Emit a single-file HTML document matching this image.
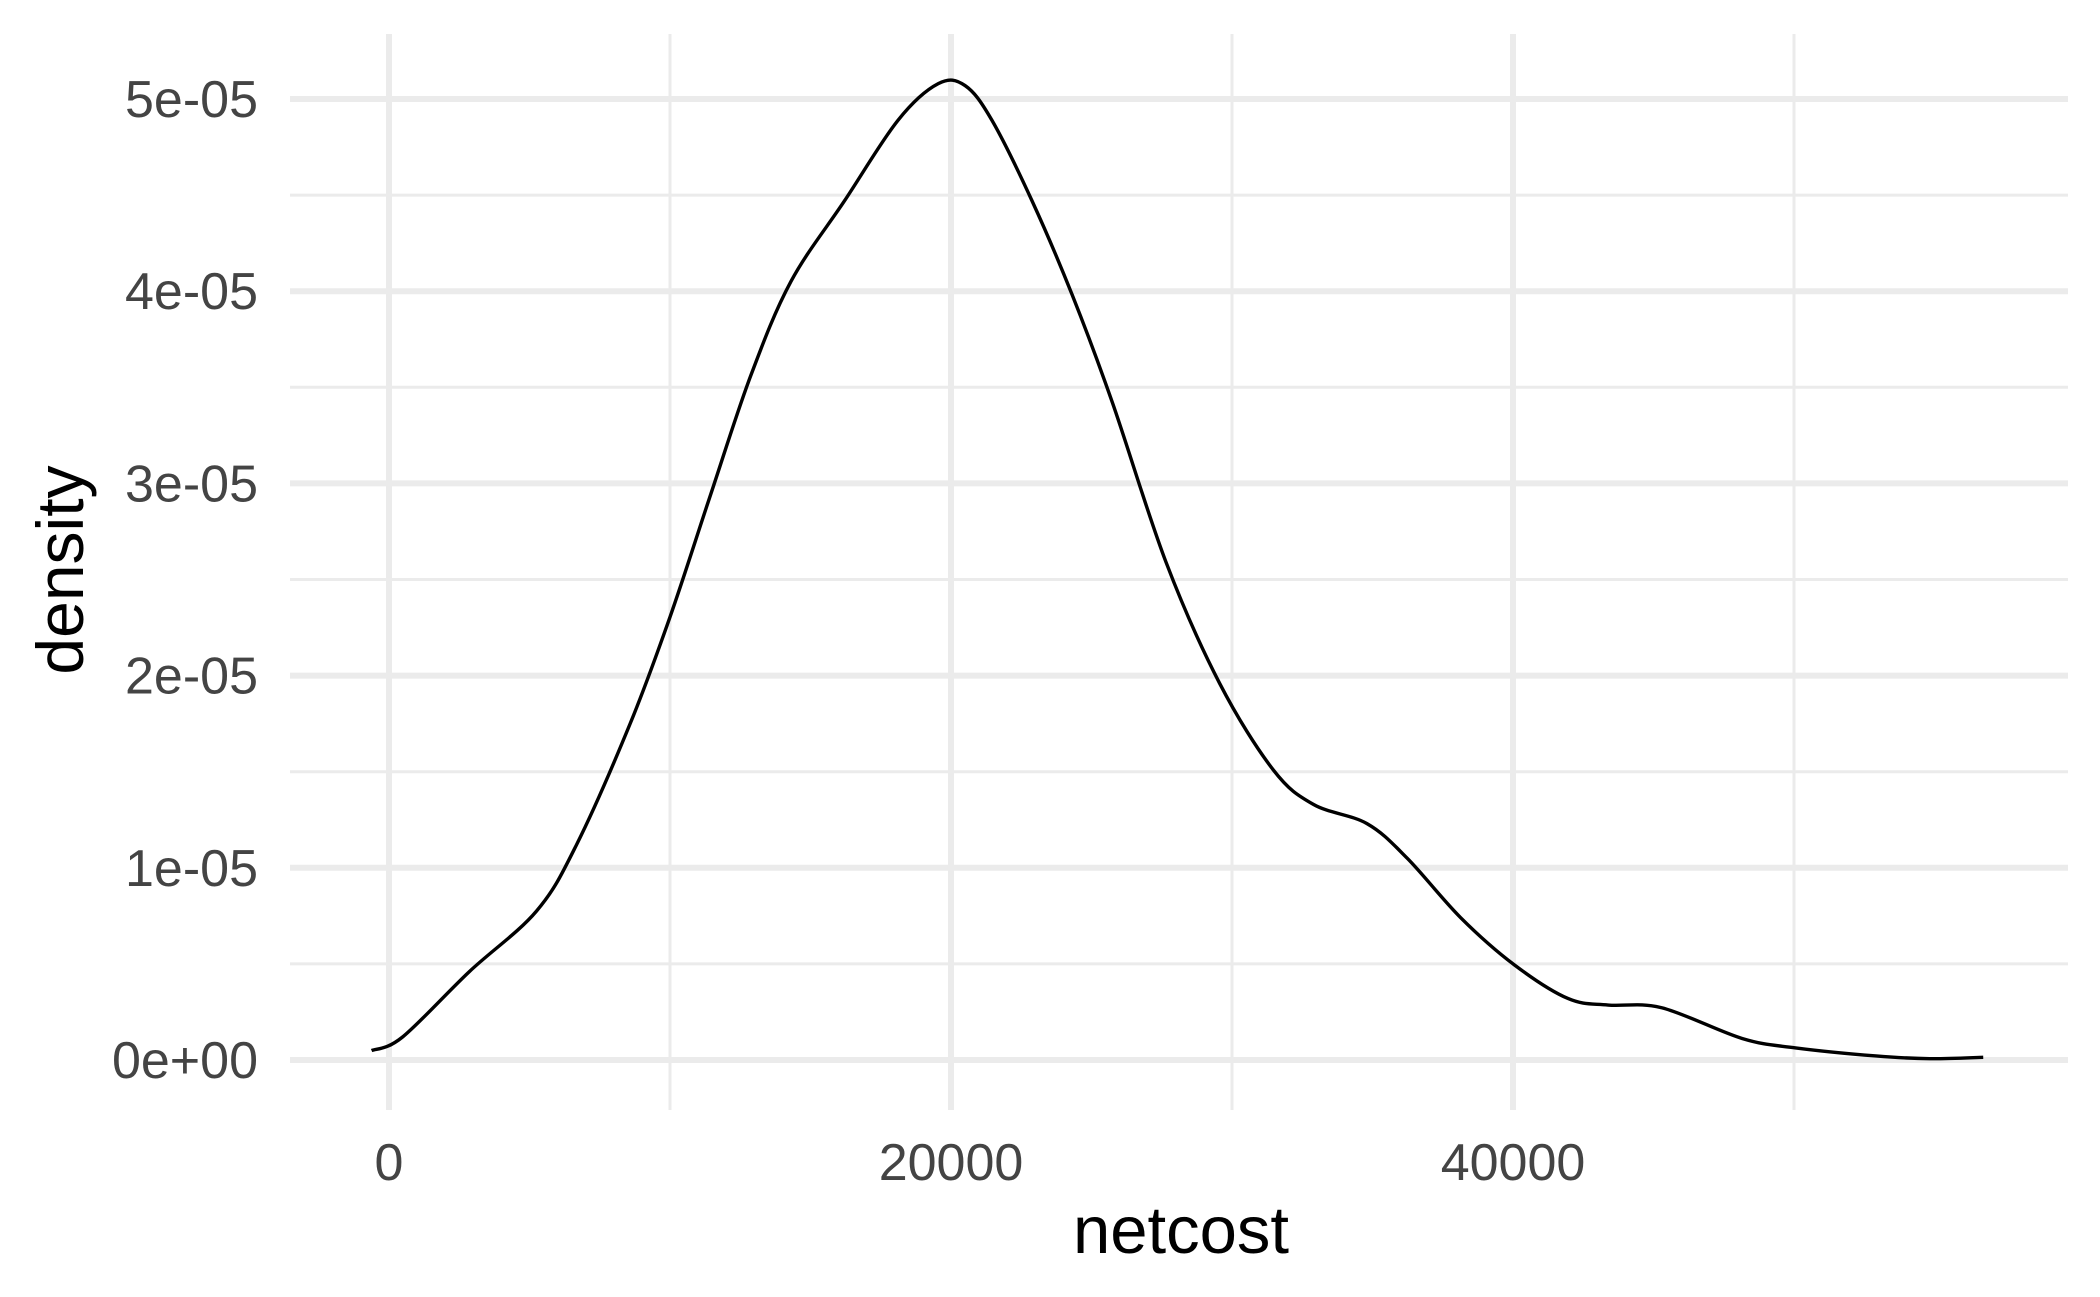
<!DOCTYPE html>
<html><head><meta charset="utf-8"><style>
html,body{margin:0;padding:0;background:#fff;}
svg{display:block;font-family:"Liberation Sans",Arial,sans-serif;}
</style></head><body>
<svg id="chart" width="2100" height="1297" viewBox="0 0 2100 1297">
<g id="grid"></g>
<g id="yticks"></g>
<g id="xticks"></g>
<path id="curve" fill="none" stroke="#000" stroke-width="3.4"/>
<text x="1181" y="1253" font-size="67" text-anchor="middle" fill="#000">netcost</text>
<text transform="translate(83,570) rotate(-90)" font-size="66" text-anchor="middle" fill="#000">density</text>
</svg>
<script>
const xTicks=[0,20000,40000];
const xTickLabels=["0","20000","40000"];
const xMinor=[10000,30000,50000];
const yTicks=[0,1e-5,2e-5,3e-5,4e-5,5e-5];
const yTickLabels=["0e+00","1e-05","2e-05","3e-05","4e-05","5e-05"];
const yMinor=[0.5e-5,1.5e-5,2.5e-5,3.5e-5,4.5e-5];
const curveX=[-620,477,2860,5244,6674,8582,10012,11442,12872,14302,16210,18117,19547,20500,21454,22884,24315,25745,27652,29559,31466,32896,34803,36234,38141,40048,41955,43385,45292,48153,50060,52920,54827,56734];
const curveY=[0.49,1.19,4.6,7.74,11.2,17.5,23.1,29.4,35.6,40.5,44.7,48.9,50.8,50.7,48.9,44.7,39.8,34.2,25.9,19.6,15.1,13.3,12.3,10.5,7.4,4.95,3.2,2.86,2.72,1.12,0.63,0.21,0.07,0.14].map(v=>v*1e-6);

const sx=v=>389+v*(1513-389)/40000;
const sy=v=>1060-v*(1060-99)/5e-5;
const NS="http://www.w3.org/2000/svg";
const grid=document.getElementById('grid');
function line(x1,y1,x2,y2,w,name){
  const l=document.createElementNS(NS,'line');
  l.setAttribute('x1',x1);l.setAttribute('y1',y1);l.setAttribute('x2',x2);l.setAttribute('y2',y2);
  l.setAttribute('stroke','#EBEBEB');l.setAttribute('stroke-width',w);
  
  
  grid.appendChild(l);
}
const L=290,R=2068,T=34,B=1110;
yMinor.forEach(v=>line(L,sy(v),R,sy(v),3,'y-minor-gridline'));
xMinor.forEach(v=>line(sx(v),T,sx(v),B,3,'x-minor-gridline'));
yTicks.forEach(v=>line(L,sy(v),R,sy(v),6,'y-major-gridline'));
xTicks.forEach(v=>line(sx(v),T,sx(v),B,6,'x-major-gridline'));
const yt=document.getElementById('yticks');
yTicks.forEach((v,i)=>{
  const t=document.createElementNS(NS,'text');
  t.setAttribute('x',258);t.setAttribute('y',sy(v)+18);
  t.setAttribute('text-anchor','end');t.setAttribute('font-size','52');t.setAttribute('fill','#444');
  
  
  t.textContent=yTickLabels[i];yt.appendChild(t);
});
const xt=document.getElementById('xticks');
xTicks.forEach((v,i)=>{
  const t=document.createElementNS(NS,'text');
  t.setAttribute('x',sx(v));t.setAttribute('y',1180);
  t.setAttribute('text-anchor','middle');t.setAttribute('font-size','52');t.setAttribute('fill','#444');
  
  
  t.textContent=xTickLabels[i];xt.appendChild(t);
});
const P=curveX.map((x,i)=>[sx(x),sy(curveY[i])]);
let d='M'+P[0][0]+','+P[0][1];
for(let i=0;i<P.length-1;i++){
  const p0=P[i-1]||P[i],p1=P[i],p2=P[i+1],p3=P[i+2]||p2;
  const c1=[p1[0]+(p2[0]-p0[0])/6,p1[1]+(p2[1]-p0[1])/6];
  const c2=[p2[0]-(p3[0]-p1[0])/6,p2[1]-(p3[1]-p1[1])/6];
  d+=' C'+c1[0]+','+c1[1]+' '+c2[0]+','+c2[1]+' '+p2[0]+','+p2[1];
}
document.getElementById('curve').setAttribute('d',d);
</script>
</body></html>
